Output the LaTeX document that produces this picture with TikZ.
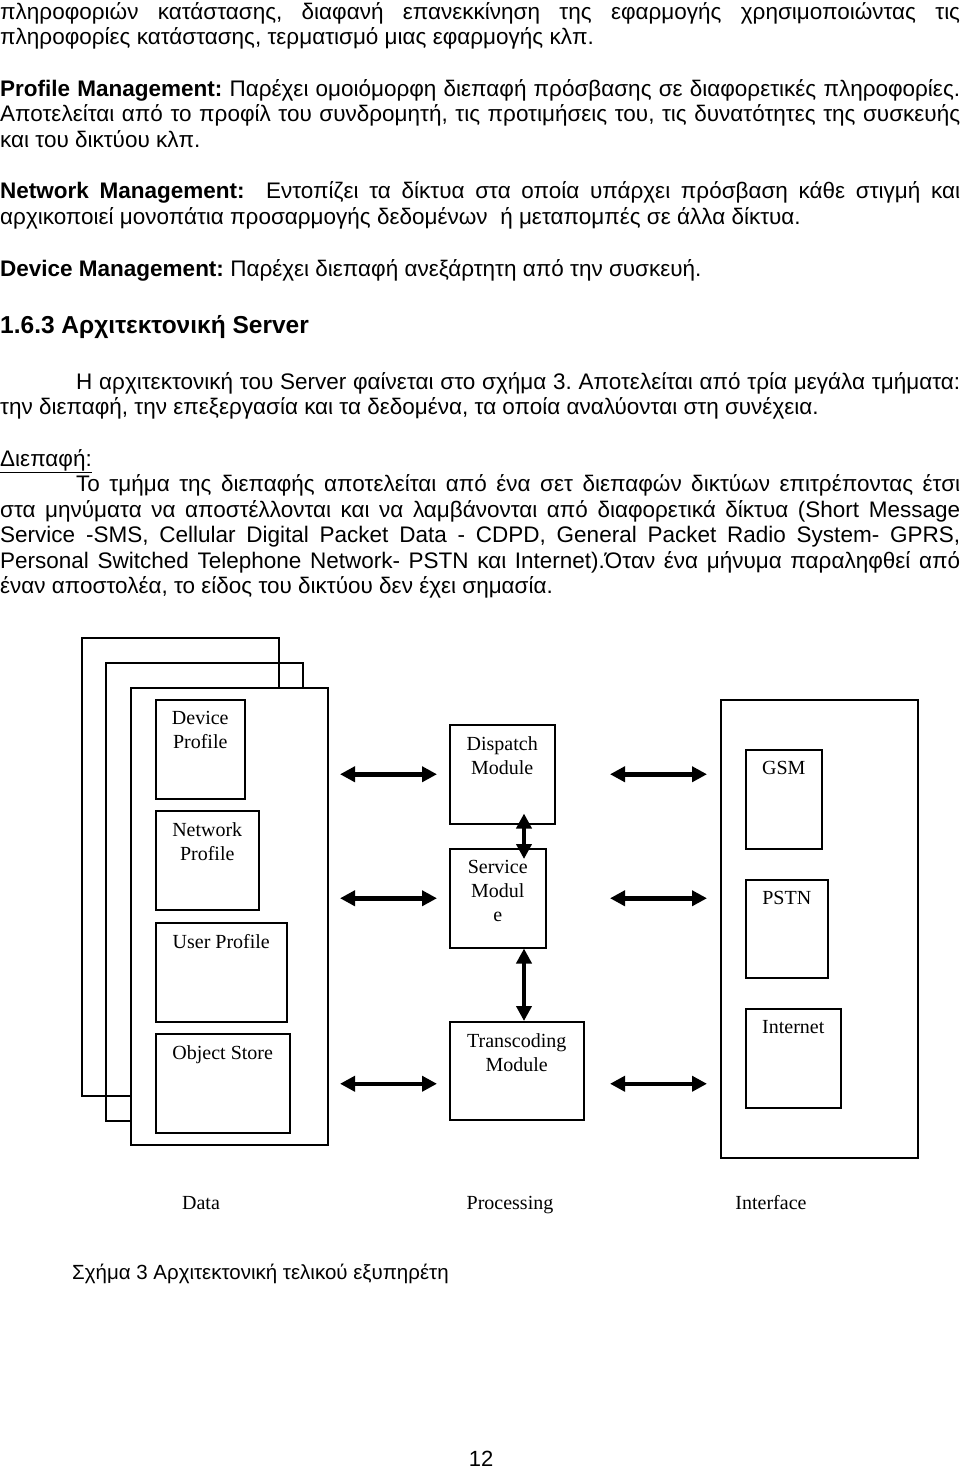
\documentclass[tikz,border=0pt]{standalone}
\usepackage{fontspec}
\setmainfont{Liberation Sans}
\newfontfamily\tms{Liberation Serif}
\usetikzlibrary{arrows.meta}
\frenchspacing

\newcommand{\body}{\fontsize{22.5}{26}\selectfont}
\newcommand{\jline}[2][960pt]{\makebox[#1][s]{#2}}

\begin{document}
\begin{tikzpicture}[x=1pt,y=-1pt]
\tikzstyle{txt}=[inner sep=0pt,anchor=base west,font=\body]
\tikzstyle{blk}=[draw=black,line width=1.5pt,anchor=north west,inner sep=0pt]
\tikzstyle{lab}=[anchor=north,yshift=-12pt,inner sep=0pt,align=center,font=\tms\fontsize{20}{24}\selectfont]
\tikzstyle{collbl}=[inner sep=0pt,anchor=base,font=\tms\fontsize{20}{24}\selectfont]
\tikzstyle{dbl}=[line width=4.5pt,{Triangle[length=15pt,width=15pt]}-{Triangle[length=15pt,width=15pt]}]

\useasboundingbox (0,0) rectangle (960,1468);
\fill[white] (0,0) rectangle (960,1468);

\node[txt] (l1) at (0,19) {\jline{πληροφοριών κατάστασης, διαφανή επανεκκίνηση της εφαρμογής χρησιμοποιώντας τις}};
\node[txt] (l2) at (0,44.5) {πληροφορίες κατάστασης, τερματισμό μιας εφαρμογής κλπ.};
\node[txt] (l3) at (0,96) {\jline{\textbf{Profile Management:} Παρέχει ομοιόμορφη διεπαφή πρόσβασης σε διαφορετικές πληροφορίες.}};
\node[txt] (l4) at (0,121.5) {\jline{Αποτελείται από το προφίλ του συνδρομητή, τις προτιμήσεις του, τις δυνατότητες της συσκευής}};
\node[txt] (l5) at (0,147) {και του δικτύου κλπ.};
\node[txt] (l6) at (0,198.5) {\jline{\textbf{Network Management:}\ \ Εντοπίζει τα δίκτυα στα οποία υπάρχει πρόσβαση κάθε στιγμή και}};
\node[txt] (l7) at (0,224) {αρχικοποιεί μονοπάτια προσαρμογής δεδομένων\ \ ή μεταπομπές σε άλλα δίκτυα.};
\node[txt] (l8) at (0,276) {\textbf{Device Management:} Παρέχει διεπαφή ανεξάρτητη από την συσκευή.};
\node[txt,font=\fontsize{24.5}{28}\selectfont\bfseries] (hd) at (0,333) {1.6.3 Αρχιτεκτονική Server};
\node[txt] (l9) at (76,389) {\jline[884pt]{Η αρχιτεκτονική του Server φαίνεται στο σχήμα 3. Αποτελείται από τρία μεγάλα τμήματα:}};
\node[txt] (l10) at (0,414.5) {την διεπαφή, την επεξεργασία και τα δεδομένα, τα οποία αναλύονται στη συνέχεια.};
\node[txt] (l11) at (0,466) {\underline{Διεπαφή:}};
\node[txt] (l12) at (76,491.5) {\jline[884pt]{Το τμήμα της διεπαφής αποτελείται από ένα σετ διεπαφών δικτύων επιτρέποντας έτσι}};
\node[txt] (l13) at (0,517) {\jline{στα μηνύματα να αποστέλλονται και να λαμβάνονται από διαφορετικά δίκτυα (Short Message}};
\node[txt] (l14) at (0,542.5) {\jline{Service -SMS, Cellular Digital Packet Data - CDPD, General Packet Radio System- GPRS,}};
\node[txt] (l15) at (0,568) {\jline{Personal Switched Telephone Network- PSTN και Internet).Όταν ένα μήνυμα παραληφθεί από}};
\node[txt] (l16) at (0,593.5) {έναν αποστολέα, το είδος του δικτύου δεν έχει σημασία.};

\node[blk,minimum width=197,minimum height=458] (f1) at (81,637) {};
\node[blk,minimum width=197,minimum height=458] (f2) at (105,662) {};
\node[blk,fill=white,minimum width=197,minimum height=457] (front) at (130,687) {};
\node[blk,minimum width=89,minimum height=99,label={[lab]north:Device\\Profile}] (dev) at (155,699) {};
\node[blk,minimum width=103,minimum height=99,label={[lab]north:Network\\Profile}] (netp) at (155,810) {};
\node[blk,minimum width=131,minimum height=99,label={[lab]north:User Profile}] (usr) at (155,922) {};
\node[blk,minimum width=134,minimum height=99,label={[lab]north:Object Store}] (obj) at (155,1033) {};

\node[blk,minimum width=105,minimum height=99,label={[lab]north:Dispatch\\Module}] (dsp) at (449,724) {};
\node[blk,minimum width=96,minimum height=99,label={[lab]north:Service\\Modul\\e}] (srv) at (449,848) {};
\node[blk,minimum width=134,minimum height=98,label={[lab]north:Transcoding\\Module}] (trc) at (449,1021) {};

\node[blk,minimum width=197,minimum height=458] (big) at (720,699) {};
\node[blk,minimum width=76,minimum height=99,label={[lab]north:GSM}] (gsm) at (745,749) {};
\node[blk,minimum width=82,minimum height=98,label={[lab]north:PSTN}] (pstn) at (745,879) {};
\node[blk,minimum width=95,minimum height=99,label={[lab]north:Internet}] (inet) at (745,1008) {};

\coordinate (lx) at (340,0);
\coordinate (rx) at (610,0);
\coordinate (vx) at (524,0);
\coordinate (t3) at ([yshift=-13pt]trc.west);

\draw[dbl,shorten >=12pt] (lx |- dsp.west) -- (dsp.west);
\draw[dbl,shorten >=12pt] (lx |- srv.west) -- (srv.west);
\draw[dbl,shorten >=12pt] (lx |- t3) -- (t3);
\draw[dbl,shorten >=13pt] (rx |- dsp.east) -- (big.west |- dsp.east);
\draw[dbl,shorten >=13pt] (rx |- srv.east) -- (big.west |- srv.east);
\draw[dbl,shorten >=13pt] (rx |- t3) -- (big.west |- t3);
\draw[dbl,shorten <=-11pt,shorten >=-11pt] (vx |- dsp.south) -- (vx |- srv.north);
\draw[dbl] (vx |- srv.south) -- (vx |- trc.north);

\node[collbl] (cd) at (201,1209) {Data};
\node[collbl] (cp) at (510,1209) {Processing};
\node[collbl] (ci) at (771,1209) {Interface};

\node[txt,font=\fontsize{20.5}{25}\selectfont] (fig) at (72,1279) {Σχήμα 3 Αρχιτεκτονική τελικού εξυπηρέτη};
\node[txt,anchor=base,font=\fontsize{22}{26}\selectfont] (pg) at (481,1466) {12};
\end{tikzpicture}
\end{document}
